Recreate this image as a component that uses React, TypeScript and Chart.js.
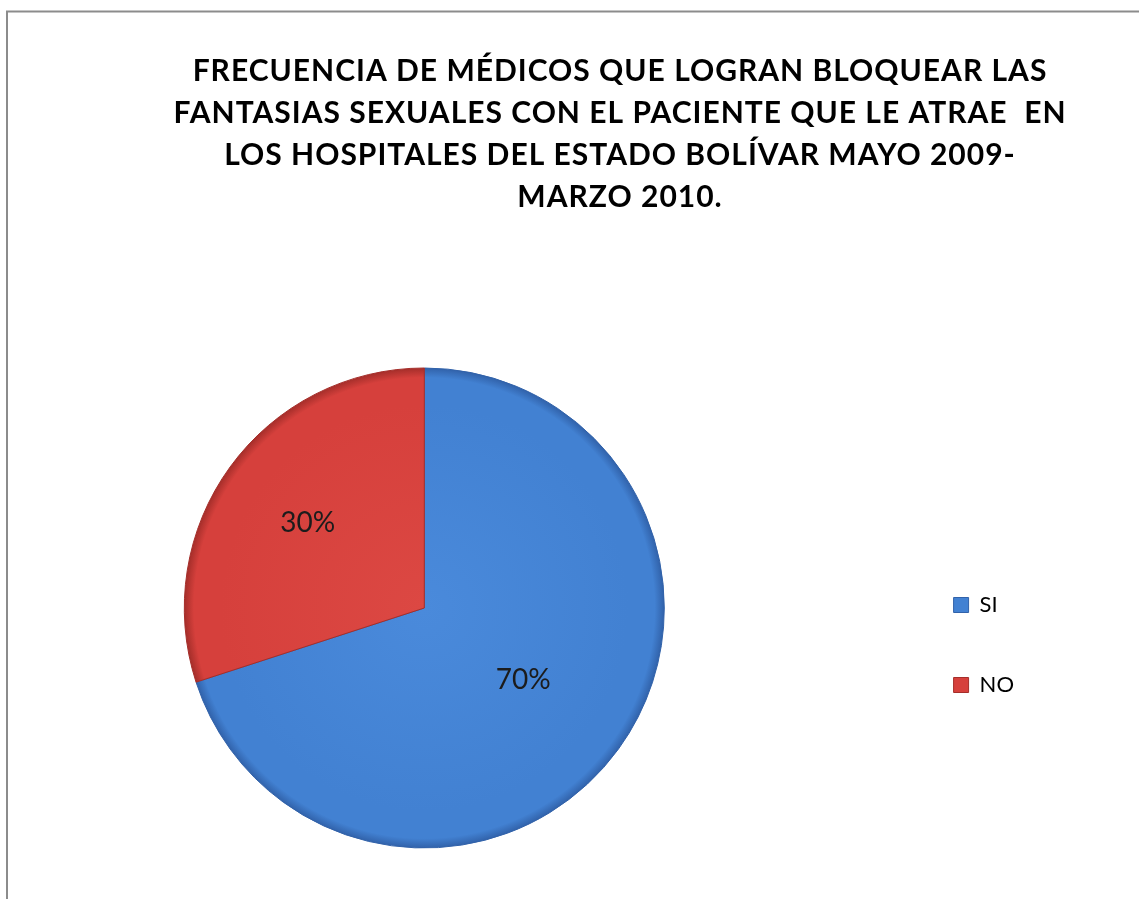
import { useEffect, useRef } from 'react';
import { Chart, registerables } from 'chart.js';

Chart.register(...registerables);

const TITLE_LINES = [
  'FRECUENCIA DE MÉDICOS QUE LOGRAN BLOQUEAR LAS',
  'FANTASIAS SEXUALES CON EL PACIENTE QUE LE ATRAE  EN',
  'LOS HOSPITALES DEL ESTADO BOLÍVAR MAYO 2009-',
  'MARZO 2010.',
];
const CATEGORIES = ['SI', 'NO'];
const VALUES = [70, 30];

const BASE_COLORS = ['#4281D2', '#D6403C'];
const LIGHT_COLORS = ['#4A8ADB', '#DC4843'];
const DARK_COLORS = ['#3162AA', '#A52E2A'];
const LABEL_RADIUS = [0.51, 0.6];

const OX = 100; // canvas offset to the left of the page
const CW = 1240;
const CH = 899;
const PIE_R = 240;

const titlePlugin = {
  id: 'customTitle',
  beforeDraw(chart: any) {
    const ctx = chart.ctx;
    ctx.save();
    ctx.fillStyle = '#ffffff';
    ctx.fillRect(0, 0, chart.width, chart.height);
    // frame
    ctx.strokeStyle = '#8c8c8c';
    ctx.lineWidth = 2;
    ctx.beginPath();
    ctx.moveTo(OX + 7, CH);
    ctx.lineTo(OX + 7, 11.5);
    ctx.lineTo(chart.width, 11.5);
    ctx.stroke();
    // title
    ctx.fillStyle = '#000000';
    ctx.font = 'bold 30px Lato';
    (ctx as any).letterSpacing = '1px';
    ctx.textAlign = 'center';
    ctx.textBaseline = 'alphabetic';
    TITLE_LINES.forEach((line, i) => {
      ctx.fillText(line, OX + 620, 81 + i * 42);
    });
    ctx.restore();
  },
};

const labelPlugin = {
  id: 'sliceLabels',
  afterDatasetsDraw(chart: any) {
    const ctx = chart.ctx;
    const meta = chart.getDatasetMeta(0);
    const total = VALUES.reduce((a, b) => a + b, 0);
    ctx.save();
    ctx.font = '28px Lato';
    ctx.fillStyle = '#1c1c1c';
    ctx.textAlign = 'center';
    ctx.textBaseline = 'middle';
    meta.data.forEach((arc: any, i: number) => {
      const { x, y, startAngle, endAngle, outerRadius } = arc.getProps(
        ['x', 'y', 'startAngle', 'endAngle', 'outerRadius'],
        true
      );
      const mid = (startAngle + endAngle) / 2;
      const r = outerRadius * LABEL_RADIUS[i];
      const pct = Math.round((VALUES[i] / total) * 100) + '%';
      ctx.fillText(pct, x + Math.cos(mid) * r, y + Math.sin(mid) * r);
    });
    ctx.restore();
  },
};

export default function App() {
  const ref = useRef<HTMLCanvasElement>(null);
  useEffect(() => {
    if (!ref.current) return;
    const chart = new Chart(ref.current, {
      type: 'pie',
      data: {
        labels: CATEGORIES,
        datasets: [
          {
            data: VALUES,
            backgroundColor: (c: any) => {
              const i = c.dataIndex;
              const area = c.chart.chartArea;
              if (!area) return BASE_COLORS[i];
              const cx = (area.left + area.right) / 2;
              const cy = (area.top + area.bottom) / 2;
              const g = c.chart.ctx.createRadialGradient(cx, cy, 0, cx, cy, PIE_R);
              g.addColorStop(0, LIGHT_COLORS[i]);
              g.addColorStop(0.85, BASE_COLORS[i]);
              g.addColorStop(0.96, BASE_COLORS[i]);
              g.addColorStop(1, DARK_COLORS[i]);
              return g;
            },
            borderColor: DARK_COLORS,
            borderWidth: 1,
          },
        ],
      },
      options: {
        responsive: false,
        animation: false,
        devicePixelRatio: 1,
        radius: PIE_R,
        layout: { padding: { left: 53, right: 116, top: 462, bottom: 145 } },
        plugins: {
          title: { display: false },
          tooltip: { enabled: false },
          legend: {
            position: 'right',
            align: 'end',
            labels: {
              font: { family: 'Lato', size: 22 },
              color: '#1c1c1c',
              boxWidth: 15,
              boxHeight: 15,
              padding: 58,
              generateLabels: () =>
                CATEGORIES.map((label, i) => ({
                  text: label,
                  fillStyle: BASE_COLORS[i],
                  strokeStyle: DARK_COLORS[i],
                  lineWidth: 1,
                  hidden: false,
                  index: i,
                  datasetIndex: 0,
                })),
            },
          },
        },
      } as any,
      plugins: [titlePlugin, labelPlugin],
    });
    return () => chart.destroy();
  }, []);

  return (
    <div
      style={{
        position: 'fixed',
        left: 0,
        top: 0,
        width: 1139,
        height: 899,
        overflow: 'hidden',
        background: '#ffffff',
      }}
    >
      <canvas
        ref={ref}
        width={CW}
        height={CH}
        style={{ position: 'absolute', left: -OX, top: 0, width: CW, height: CH }}
      />
    </div>
  );
}
